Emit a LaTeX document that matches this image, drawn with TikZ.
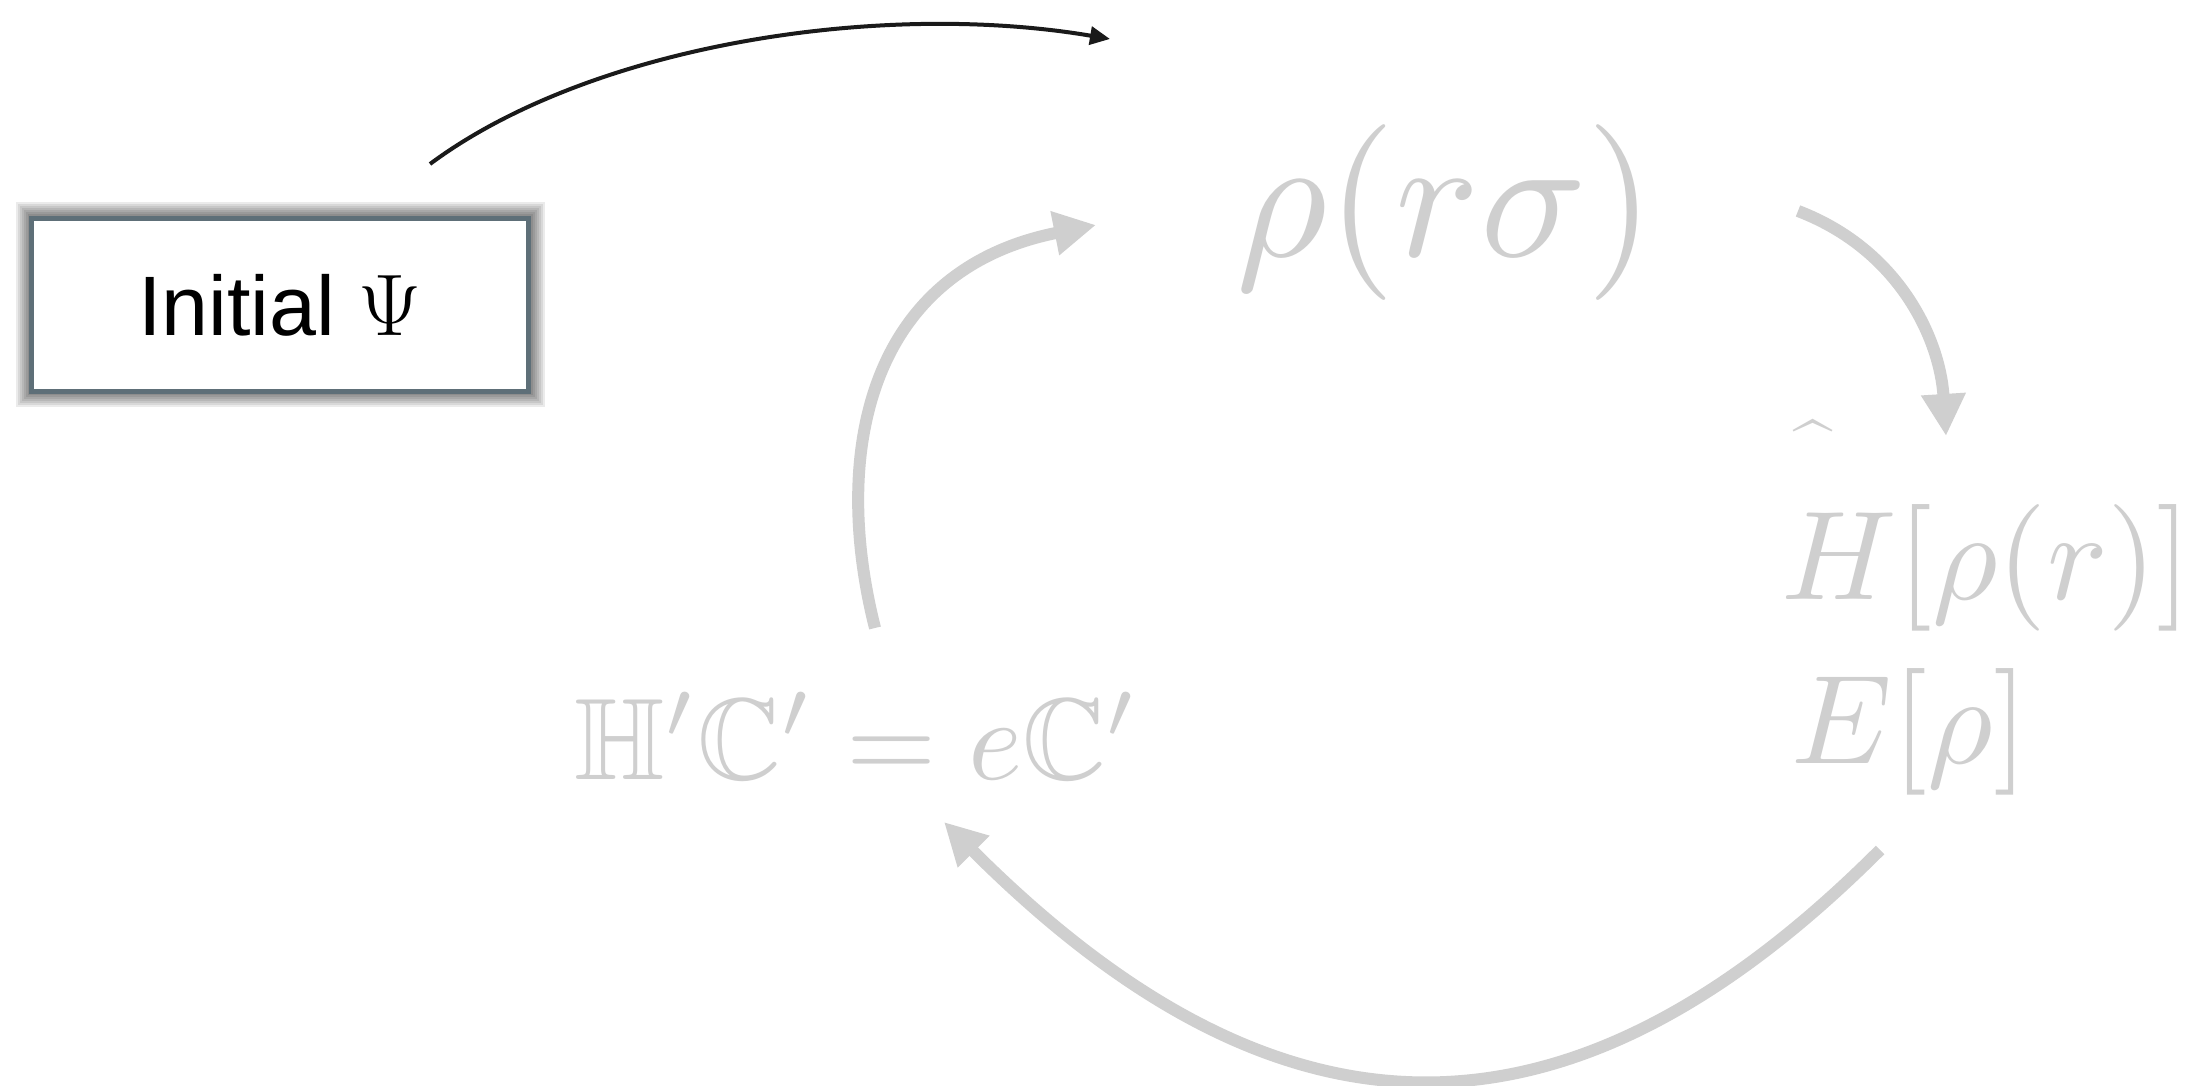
\documentclass[tikz,border=0pt]{standalone}
\usepackage{fontspec}
\usepackage{amssymb}
\usepackage{graphicx}
\newfontfamily\arialfont{Liberation Sans}
\usetikzlibrary{arrows.meta}
\definecolor{lightg}{HTML}{CFCFCF}
\definecolor{boxborder}{HTML}{5E6F78}
\definecolor{darkarrow}{HTML}{1A1A1A}
\begin{document}
\begin{tikzpicture}[x=0.01cm,y=-0.01cm,
  grayarrow/.style={draw=lightg, line width=0.12cm, -{Triangle[length=0.42cm,width=0.42cm]}},
  blackarrow/.style={draw=darkarrow, line width=0.04cm, -{Triangle[length=0.2cm,width=0.18cm]}},
  graytext/.style={text=lightg, inner sep=0pt},
  glow/.style={fill=black, fill opacity=0.08, draw=none},
  startbox/.style={draw=boxborder, line width=0.05cm, fill=white, minimum width=4.97cm, minimum height=1.73cm, inner sep=0pt,
    font=\arialfont\fontsize{24}{28}\selectfont}]
\useasboundingbox (0,0) rectangle (2203,1086);
\fill[white] (0,0) rectangle (2203,1086);

% soft shadow round the start box
\foreach \d in {2,4,...,16}
  \fill[glow] (31.5-\d,218.5-\d) rectangle (528.5+\d,391.5+\d);

\node[startbox] (init) at (280,305) {Initial $\Psi$};

\node[graytext] (rho) at (1446,213) {\scalebox{5}{$\rho(r\sigma)$}};
\node[graytext, anchor=west] (hamH) at (1781,568) {\scalebox{3.6}{$H[\rho(r)]$}};
\node[graytext, anchor=west] (hamE) at (1791,732) {\scalebox{3.6}{$E[\rho]$}};
\node[graytext] (hat) at (1813,445) {\scalebox{2}{\^{}}};
\node[graytext, anchor=base] (eig) at (857,780) {\scalebox{3.3}{$\mathbb{H}'\mathbb{C}' = e\mathbb{C}'$}};

\coordinate (bs) at (430,164);
\coordinate (be) at (1110,39);
\draw[blackarrow] (bs) .. controls (590,45) and (880,0) .. (be);

\coordinate (r1s) at (1798,211);
\coordinate (r1e) at (1946,436);
\draw[grayarrow] (r1s) .. controls (1900,250) and (1940,340) .. (r1e);

\coordinate (r2s) at (1880,850);
\coordinate (r2e) at (944,822);
\draw[grayarrow] (r2s) .. controls (1570,1160) and (1282,1160) .. (r2e);

\coordinate (r3s) at (875,628);
\coordinate (r3e) at (1096,225);
\draw[grayarrow] (r3s) .. controls (830,450) and (870,270) .. (r3e);
\end{tikzpicture}
\end{document}
